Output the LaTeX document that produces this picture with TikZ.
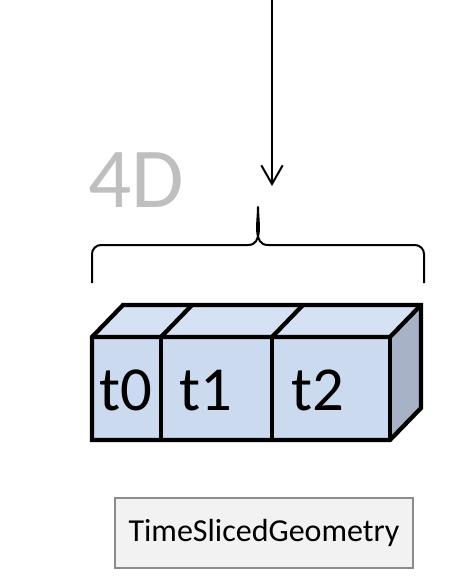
\documentclass[tikz,border=0pt]{standalone}
\usepackage{fontspec}
\setmainfont{Carlito}
\usetikzlibrary{arrows.meta}
\definecolor{frontc}{HTML}{CCDAF0}
\definecolor{topc}{HTML}{D6E1F3}
\definecolor{sidec}{HTML}{A7B2C6}
\definecolor{labgray}{HTML}{BFBFBF}
\definecolor{boxfill}{HTML}{F2F2F2}
\definecolor{boxline}{HTML}{8C8C8C}
\tikzset{
  face/.style={draw=black, line width=3.2pt, line join=miter},
  slicelabel/.style={font=\fontsize{47}{56}\selectfont, text=black, anchor=base west, inner sep=0pt},
  thinline/.style={draw=black, line width=1.5pt},
  classbox/.style={draw=boxline, fill=boxfill, line width=2pt, minimum width=223.5pt, minimum height=52.5pt, inner sep=0pt, font=\fontsize{24}{29}\selectfont}
}
\begin{document}
\begin{tikzpicture}[x=0.75pt,y=-0.75pt]
\useasboundingbox (0,0) rectangle (462,576);
% arrow
\coordinate (arrtop) at (272,0);
\coordinate (arrend) at (272,186);
\draw[thinline,-{Straight Barb[length=14pt,width=16pt,line width=1.5pt]}] (arrtop) -- (arrend);
% 4D label
\node[text=labgray, font=\fontsize{64}{76}\selectfont, anchor=base west, inner sep=0pt] (lab4d) at (88,207) {4D};
% brace
\coordinate (bl) at (92,283);
\coordinate (btip) at (258,207);
\coordinate (br) at (424,283);
\draw[thinline, line join=round] (bl) -- (92,254) to[out=90,in=180] (101,245) -- (248,245)
  to[out=0,in=-90] (btip) to[out=-90,in=180] (268,245) -- (415,245) to[out=0,in=90] (424,254) -- (br);
% cubes: depth (31,-32)
\def\dx{31}\def\dy{-32}
% top faces
\foreach \a/\b in {92/161,161/272,272/390}{
  \fill[topc] (\a,337) -- (\a+\dx,337+\dy) -- (\b+\dx,337+\dy) -- (\b,337) -- cycle;
}
% side face
\fill[sidec] (390,337) -- (390+\dx,337+\dy) -- (390+\dx,440+\dy) -- (390,440) -- cycle;
% front faces
\foreach \a/\b in {92/161,161/272,272/390}{
  \fill[frontc] (\a,337) rectangle (\b,440);
}
% outlines
\draw[face] (92,337) -- (92+\dx,337+\dy) -- (390+\dx,337+\dy) -- (390+\dx,440+\dy) -- (390,440) -- (92,440) -- cycle;
\draw[face] (92,337) -- (390,337) -- (390+\dx,337+\dy);
\draw[face] (390,337) -- (390,440);
\draw[face] (161,337) -- (161,440);
\draw[face] (272,337) -- (272,440);
\draw[face] (161,337) -- (161+\dx,337+\dy);
\draw[face] (272,337) -- (272+\dx,337+\dy);
\node[slicelabel] (t0) at (99,410) {t0};
\node[slicelabel] (t1) at (179,410) {t1};
\node[slicelabel] (t2) at (291,410) {t2};
% class box
\node[classbox] (tsg) at (264,533) {TimeSlicedGeometry};
\end{tikzpicture}
\end{document}
